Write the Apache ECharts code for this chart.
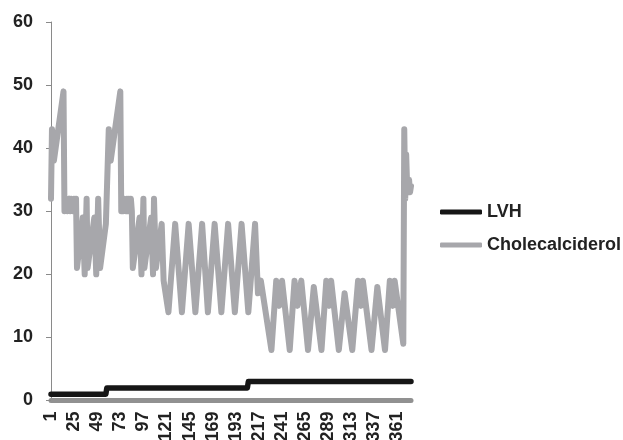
<!DOCTYPE html>
<html>
<head>
<meta charset="utf-8">
<script src="https://cdn.jsdelivr.net/npm/echarts@6/dist/echarts.min.js"></script>
<style>
html, body { margin: 0; padding: 0; background: #fff; }
#chart { width: 623px; height: 440px; }
</style>
</head>
<body>
<div id="chart"></div>
<script>
// day numbers on the category axis
const dayCount = 375
const days = Array.from({ length: dayCount }, (_, i) => String(i + 1))

// [day, value]
const lvhPoints = [[1, 1], [58, 1], [59, 2], [205, 2], [206, 3], [375, 3]]

const cholPoints = [
  [1, 32], [2, 43], [3, 43], [4, 38], [14, 49], [15, 30], [16, 32], [17, 32], [18, 30], [19, 30],
  [20, 32], [21, 30], [22, 32], [23, 32], [24, 30], [25, 32], [26, 30], [27, 32], [28, 21], [34, 29],
  [36, 20], [38, 32], [39, 21], [46, 29], [48, 20], [50, 32], [52, 21], [58, 28], [61, 43], [62, 43],
  [63, 38], [73, 49], [74, 30], [75, 32], [76, 30], [77, 32], [78, 32], [79, 30], [80, 32], [81, 30],
  [82, 32], [83, 30], [84, 32], [85, 30], [86, 21], [93, 29], [95, 20], [97, 32], [98, 21], [105, 29],
  [107, 20], [108, 32], [110, 21], [116, 28], [118, 19], [123, 14], [130, 28], [137, 14], [144, 28], [151, 14],
  [158, 28], [164, 14], [171, 28], [178, 14], [185, 28], [192, 14], [199, 28], [206, 14], [213, 28], [216, 17],
  [219, 19], [230, 8], [235, 19], [238, 15], [241, 19], [249, 8], [254, 19], [257, 15], [261, 19], [268, 8],
  [274, 18], [282, 8], [287, 19], [290, 15], [292, 19], [300, 8], [306, 17], [314, 8], [320, 19], [323, 15],
  [325, 19], [334, 8], [340, 18], [348, 8], [353, 19], [356, 15], [358, 19], [367, 9], [368, 43], [369, 32],
  [370, 39], [371, 34], [372, 33], [373, 35], [374, 33], [375, 34]
]

// category axis wants 0-based indexes
const toIndex = (pts) => pts.map(p => [p[0] - 1, p[1]])

const font = 'Liberation Sans, Arial, sans-serif'

const chart = echarts.init(document.getElementById('chart'))
chart.setOption({
  animation: false,
  grid: { left: 51, right: 212, top: 22, bottom: 39.5, containLabel: false, outerBoundsMode: 'none' },
  legend: {
    orient: 'vertical',
    left: 440,
    top: 203,
    icon: 'roundRect',
    itemWidth: 42,
    itemHeight: 5,
    itemGap: 15,
    padding: 0,
    textStyle: { fontFamily: font, fontSize: 18, fontWeight: 'bold', color: '#222' },
    data: ['LVH', 'Cholecalciderol']
  },
  xAxis: {
    type: 'category',
    data: days,
    boundaryGap: false,
    offset: 5,
    axisLine: { lineStyle: { color: '#919191', width: 5 } },
    axisTick: { show: false },
    axisLabel: {
      interval: 23,
      rotate: 90,
      margin: 6,
      fontFamily: font,
      fontSize: 18,
      fontWeight: 'bold',
      color: '#222'
    },
    splitLine: { show: false }
  },
  yAxis: {
    type: 'value',
    min: 0,
    max: 60,
    interval: 10,
    axisLine: { show: true, lineStyle: { color: '#8a8a8a', width: 1 } },
    axisTick: { show: true, length: 5, lineStyle: { color: '#8a8a8a' } },
    axisLabel: {
      margin: 18,
      fontFamily: font,
      fontSize: 18,
      fontWeight: 'bold',
      color: '#222'
    },
    splitLine: { show: false }
  },
  series: [
    {
      name: 'LVH',
      type: 'line',
      data: toIndex(lvhPoints),
      symbol: 'none',
      itemStyle: { color: '#161616' },
      lineStyle: { color: '#161616', width: 5.5, join: 'round', cap: 'round' }
    },
    {
      name: 'Cholecalciderol',
      type: 'line',
      data: toIndex(cholPoints),
      symbol: 'none',
      itemStyle: { color: '#a7a7ab' },
      lineStyle: { color: '#a7a7ab', width: 6, join: 'round', cap: 'round' }
    }
  ]
})
</script>
</body>
</html>
